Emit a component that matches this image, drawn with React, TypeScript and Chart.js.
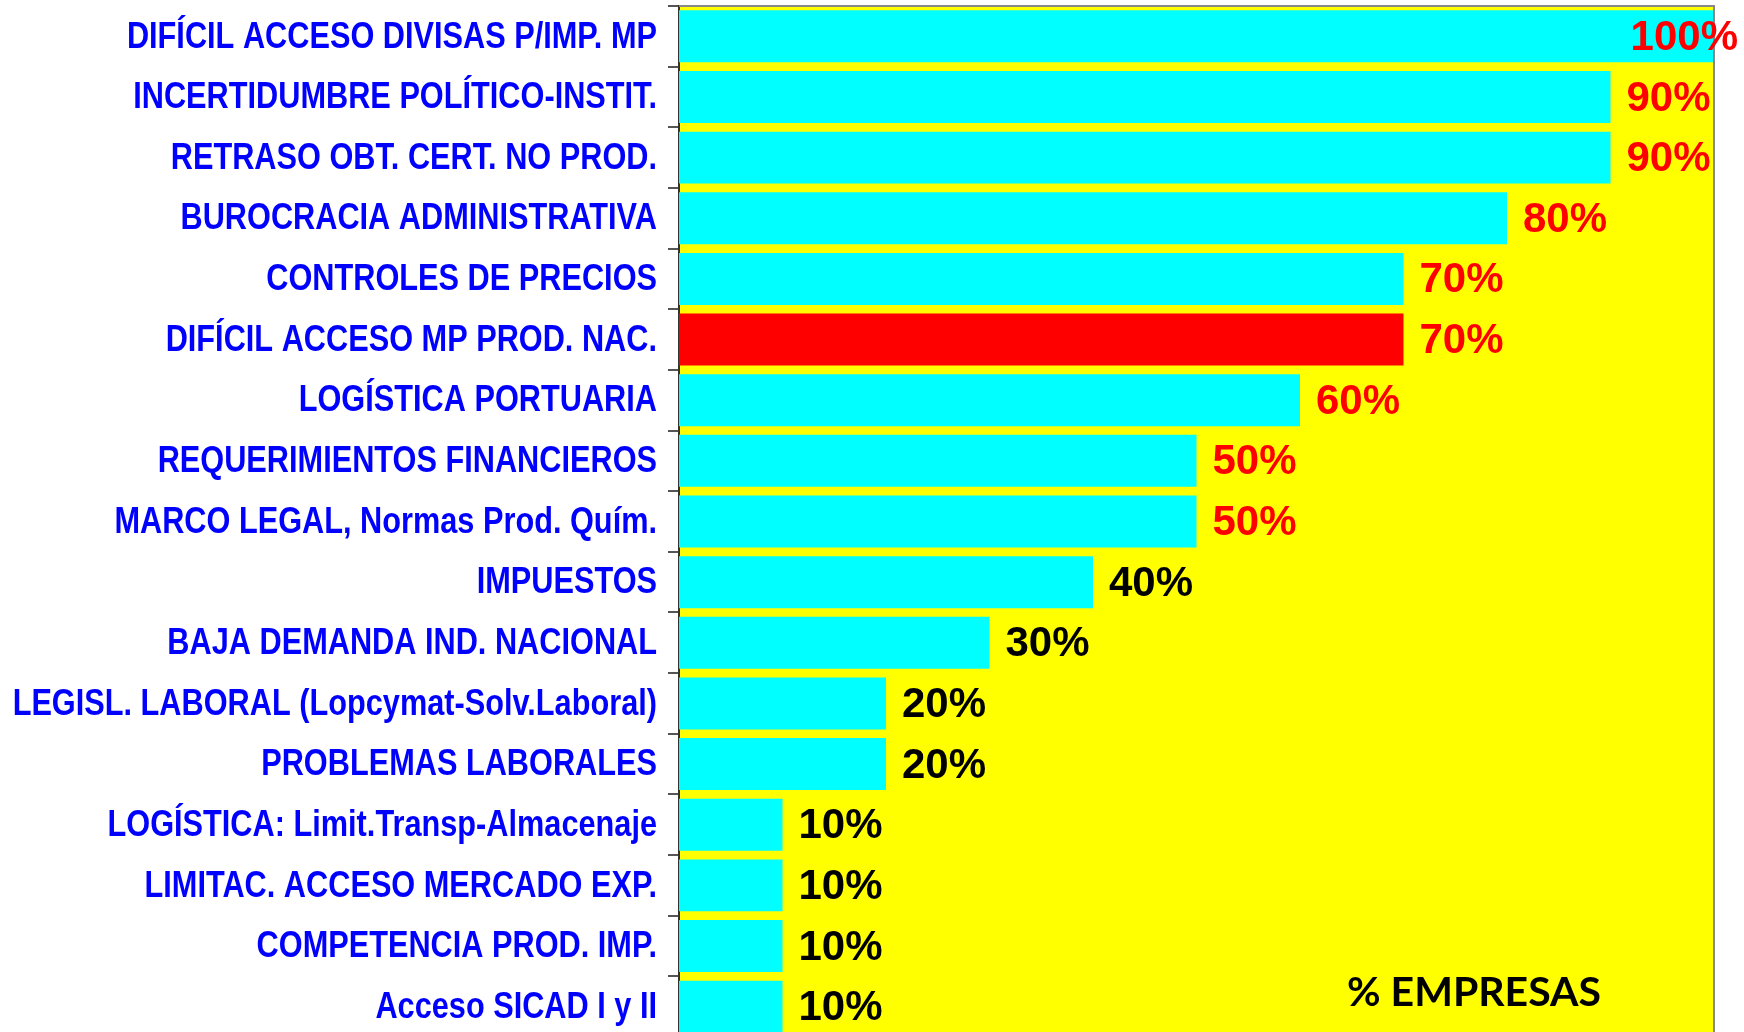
import React, { useEffect, useRef } from 'react';
import { Chart, registerables } from 'chart.js';

Chart.register(...registerables);

const categories: string[] = [
  'DIFÍCIL ACCESO DIVISAS P/IMP. MP',
  'INCERTIDUMBRE POLÍTICO-INSTIT.',
  'RETRASO OBT. CERT. NO PROD.',
  'BUROCRACIA ADMINISTRATIVA',
  'CONTROLES DE PRECIOS',
  'DIFÍCIL ACCESO MP PROD. NAC.',
  'LOGÍSTICA PORTUARIA',
  'REQUERIMIENTOS FINANCIEROS',
  'MARCO LEGAL, Normas Prod. Quím.',
  'IMPUESTOS',
  'BAJA DEMANDA IND. NACIONAL',
  'LEGISL. LABORAL (Lopcymat-Solv.Laboral)',
  'PROBLEMAS LABORALES',
  'LOGÍSTICA: Limit.Transp-Almacenaje',
  'LIMITAC. ACCESO MERCADO EXP.',
  'COMPETENCIA PROD. IMP.',
  'Acceso SICAD I y II',
];

const values: number[] = [100, 90, 90, 80, 70, 70, 60, 50, 50, 40, 30, 20, 20, 10, 10, 10, 10];

const highlighted = 'DIFÍCIL ACCESO MP PROD. NAC.';
const axisTitle = '% EMPRESAS';

const W = 1744;
const H = 1040;
const NARROW = 0.83;

const bgPlugin = {
  id: 'bgPlugin',
  beforeDraw(chart: any) {
    const { ctx, chartArea } = chart;
    ctx.save();
    ctx.fillStyle = '#FFFF00';
    ctx.fillRect(chartArea.left, chartArea.top, chartArea.right - chartArea.left, chartArea.bottom - chartArea.top);
    ctx.restore();
  },
  afterDatasetsDraw(chart: any) {
    const { ctx, chartArea } = chart;
    ctx.save();
    ctx.strokeStyle = '#888888';
    ctx.lineWidth = 2;
    ctx.beginPath();
    ctx.moveTo(chartArea.left, chartArea.top);
    ctx.lineTo(chartArea.right, chartArea.top);
    ctx.lineTo(chartArea.right, chartArea.bottom);
    ctx.stroke();
    ctx.restore();
  },
};

// Category labels drawn in a condensed (Arial Narrow-like) face at the y scale's tick positions
const categoryLabelPlugin = {
  id: 'categoryLabelPlugin',
  afterDraw(chart: any) {
    const { ctx } = chart;
    const yScale = chart.scales.y;
    const rightEdge = yScale.right - 22;
    ctx.save();
    ctx.font = 'bold 37px "Liberation Sans", Arial, sans-serif';
    ctx.fillStyle = '#0000FF';
    ctx.textAlign = 'right';
    ctx.textBaseline = 'middle';
    ctx.scale(NARROW, 1);
    yScale.ticks.forEach((_t: any, i: number) => {
      const label = yScale.getLabelForValue(i);
      const y = yScale.getPixelForTick(i);
      ctx.fillText(label, rightEdge / NARROW, y + 1);
    });
    ctx.restore();
  },
};

const labelPlugin = {
  id: 'labelPlugin',
  afterDraw(chart: any) {
    const { ctx } = chart;
    const meta = chart.getDatasetMeta(0);
    ctx.save();
    ctx.font = 'bold 42px "Liberation Sans", Arial, sans-serif';
    ctx.textBaseline = 'middle';
    ctx.textAlign = 'left';
    meta.data.forEach((bar: any, i: number) => {
      const v = values[i];
      const txt = `${v}%`;
      const tw = ctx.measureText(txt).width;
      let x = bar.x + 16;
      if (x + tw > chart.width - 6) x = chart.width - 6 - tw;
      ctx.fillStyle = v >= 50 ? '#FF0000' : '#000000';
      ctx.fillText(txt, x, bar.y + 2);
    });
    ctx.font = 'bold 41px Lato, "Open Sans", sans-serif';
    ctx.fillStyle = '#000000';
    ctx.textBaseline = 'alphabetic';
    ctx.fillText(axisTitle, 1347, 1006);
    ctx.restore();
  },
};

export default function App() {
  const ref = useRef<HTMLCanvasElement>(null);
  useEffect(() => {
    const canvas = ref.current;
    if (!canvas) return;
    const chart = new Chart(canvas, {
      type: 'bar',
      data: {
        labels: categories,
        datasets: [
          {
            data: values,
            backgroundColor: categories.map((c) => (c === highlighted ? '#FF0000' : '#00FFFF')),
            borderWidth: 0,
            barPercentage: 0.857,
            categoryPercentage: 1,
          },
        ],
      },
      options: {
        indexAxis: 'y',
        responsive: false,
        animation: false,
        devicePixelRatio: 1,
        layout: { padding: { top: 6, right: 30, bottom: 3, left: 0 } },
        plugins: { legend: { display: false }, tooltip: { enabled: false } },
        scales: {
          x: { display: false, min: 0, max: 100 },
          y: {
            afterFit: (s: any) => {
              s.width = 679;
              s.paddingTop = 0;
              s.paddingBottom = 0;
            },
            grid: { drawOnChartArea: false, drawTicks: true, tickLength: 11, color: '#555555', lineWidth: 2 },
            border: { display: true, color: '#333333', width: 2 },
            ticks: { display: false, autoSkip: false },
          },
        },
      },
      plugins: [bgPlugin, categoryLabelPlugin, labelPlugin],
    } as any);
    return () => chart.destroy();
  }, []);
  return (
    <div style={{ position: 'fixed', left: 0, top: 0, width: W, height: 1032, overflow: 'hidden', background: '#ffffff' }}>
      <canvas ref={ref} width={W} height={H} style={{ display: 'block', width: W, height: H }} />
    </div>
  );
}
